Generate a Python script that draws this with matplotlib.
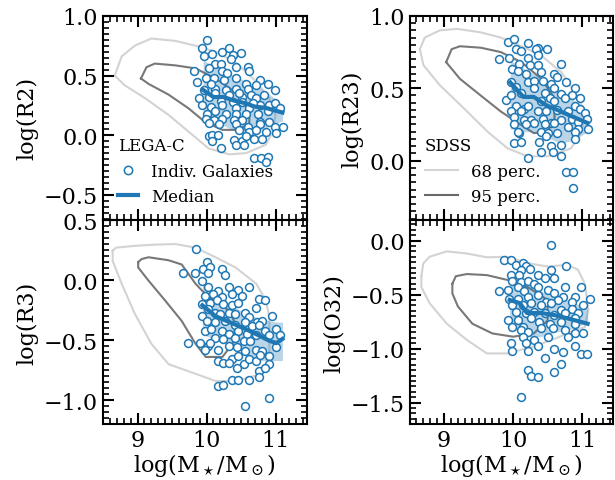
import numpy as np
import matplotlib.pyplot as plt
from matplotlib.ticker import AutoMinorLocator
from matplotlib.lines import Line2D

plt.rcParams['font.family'] = ['DejaVu Serif']
plt.rcParams['mathtext.fontset'] = 'dejavuserif'

BLUE = '#1f77b4'

# ---------------- R2 (top left) ----------------
r2_x = [10.01, 9.93, 9.96, 10.08, 10.23, 10.33, 10.38, 10.50, 10.13, 10.21, 10.35, 9.82, 10.03, 10.23,
        10.42, 10.60, 10.62, 10.77, 10.89, 10.99, 9.86, 9.99, 10.11, 10.25, 10.42, 10.57, 10.72, 9.96,
        10.13, 10.28, 10.42, 10.60, 10.13, 10.33, 10.52, 10.64, 10.84, 9.89, 10.03, 10.21, 10.38, 10.52,
        10.72, 9.94, 10.06, 10.23, 10.42, 10.62, 10.77, 10.91, 10.99, 11.06, 10.01, 10.13, 10.28, 10.42,
        10.57, 10.74, 10.89, 9.99, 10.11, 10.23, 10.40, 10.52, 10.77, 10.91, 10.03, 10.18, 10.42, 10.60,
        10.77, 10.99, 11.11, 10.47, 10.62, 10.72, 10.86, 11.01, 10.03, 10.08, 10.16, 10.08, 10.21, 10.40,
        10.52, 10.57, 10.69, 10.81, 10.42, 10.55, 10.69, 10.79, 10.89, 10.86, 10.06, 10.30, 10.47, 10.67]
r2_y = [0.80, 0.73, 0.66, 0.68, 0.70, 0.73, 0.67, 0.69, 0.60, 0.60, 0.64, 0.54, 0.56, 0.54,
        0.57, 0.57, 0.54, 0.46, 0.43, 0.38, 0.45, 0.48, 0.48, 0.46, 0.48, 0.43, 0.42, 0.38,
        0.39, 0.38, 0.39, 0.39, 0.35, 0.34, 0.32, 0.34, 0.34, 0.31, 0.32, 0.29, 0.28, 0.28,
        0.31, 0.25, 0.24, 0.25, 0.23, 0.23, 0.25, 0.25, 0.27, 0.23, 0.18, 0.20, 0.18, 0.18,
        0.18, 0.18, 0.20, 0.14, 0.13, 0.14, 0.13, 0.13, 0.11, 0.11, 0.10, 0.09, 0.09, 0.07,
        0.09, 0.07, 0.07, 0.04, 0.03, 0.04, 0.03, 0.02, -0.01, 0.00, 0.00, -0.05, -0.11, -0.04,
        -0.05, -0.01, -0.03, -0.03, -0.08, -0.08, -0.19, -0.19, -0.18, -0.22, 0.43, 0.52, 0.35, 0.27]
r2_med_x = [9.95, 10.1, 10.25, 10.4, 10.55, 10.7, 10.85, 11.1]
r2_med_y = [0.38, 0.32, 0.32, 0.29, 0.27, 0.24, 0.23, 0.19]
r2_lo = [0.12, 0.10, 0.08, 0.04, 0.00, 0.02, 0.06, 0.12]
r2_hi = [0.63, 0.58, 0.54, 0.50, 0.46, 0.42, 0.37, 0.26]
r2_c68_x = [8.67, 8.77, 8.96, 9.20, 9.55, 9.84, 10.13, 10.42, 10.72, 10.91, 11.00, 10.96, 10.86, 10.57,
            10.33, 10.03, 9.74, 9.45, 9.11, 8.81, 8.67]
r2_c68_y = [0.50, 0.66, 0.75, 0.81, 0.79, 0.75, 0.70, 0.61, 0.45, 0.31, 0.17, 0.03, -0.08, -0.15,
            -0.16, -0.11, 0.03, 0.17, 0.31, 0.42, 0.50]
r2_c95_x = [9.05, 9.13, 9.25, 9.55, 9.84, 10.13, 10.42, 10.62, 10.62, 10.42, 10.23, 9.98, 9.74, 9.45,
            9.16, 9.05]
r2_c95_y = [0.475, 0.57, 0.60, 0.585, 0.56, 0.475, 0.36, 0.20, 0.09, 0.045, 0.045, 0.11, 0.225, 0.34,
            0.43, 0.475]

# ---------------- R23 (top right) ----------------
r23_x = [9.92, 10.01, 10.04, 10.11, 10.21, 10.36, 10.33, 10.49, 9.80, 9.94, 10.21, 10.36, 10.09, 10.24,
         10.36, 10.70, 9.99, 10.07, 10.19, 10.41, 10.60, 10.63, 10.77, 10.89, 10.97, 9.90, 9.97, 10.04,
         10.21, 10.31, 10.43, 10.55, 10.60, 10.11, 10.31, 10.46, 10.70, 10.85, 9.97, 10.04, 10.16, 10.21,
         10.41, 10.53, 10.60, 10.75, 10.89, 10.97, 11.04, 11.07, 9.97, 10.11, 10.36, 10.48, 10.63, 10.80,
         10.02, 10.16, 10.26, 10.43, 10.55, 10.70, 10.85, 10.94, 10.02, 10.09, 10.31, 10.46, 10.60, 10.80,
         10.94, 11.09, 10.07, 10.19, 10.41, 10.50, 10.63, 10.89, 10.02, 10.11, 10.38, 10.48, 10.55, 10.70,
         10.89, 10.41, 10.58, 10.70, 10.21, 10.77, 10.87, 10.87]
r23_y = [0.82, 0.84, 0.77, 0.76, 0.81, 0.78, 0.77, 0.77, 0.70, 0.71, 0.71, 0.73, 0.67, 0.66,
         0.66, 0.67, 0.63, 0.62, 0.60, 0.61, 0.60, 0.58, 0.54, 0.50, 0.43, 0.42, 0.54, 0.51,
         0.54, 0.55, 0.55, 0.53, 0.50, 0.47, 0.50, 0.47, 0.46, 0.45, 0.45, 0.38, 0.36, 0.38,
         0.41, 0.43, 0.41, 0.43, 0.38, 0.36, 0.33, 0.29, 0.34, 0.34, 0.34, 0.34, 0.35, 0.34,
         0.30, 0.28, 0.28, 0.29, 0.26, 0.28, 0.29, 0.27, 0.25, 0.19, 0.26, 0.25, 0.26, 0.23,
         0.22, 0.22, 0.20, 0.25, 0.20, 0.19, 0.19, 0.20, 0.12, 0.13, 0.13, 0.17, 0.10, 0.11,
         0.15, 0.06, 0.06, 0.03, 0.02, -0.08, -0.08, -0.19]
r23_med_x = [9.96, 10.15, 10.3, 10.49, 10.69, 10.88, 11.08]
r23_med_y = [0.54, 0.44, 0.44, 0.38, 0.34, 0.30, 0.26]
r23_lo = [0.22, 0.20, 0.20, 0.16, 0.12, 0.14, 0.20]
r23_hi = [0.69, 0.64, 0.60, 0.54, 0.48, 0.42, 0.34]
r23_c68_x = [8.65, 8.72, 8.94, 9.19, 9.53, 9.82, 10.12, 10.41, 10.70, 10.90, 11.04, 10.99, 10.84, 10.50,
             10.21, 9.92, 9.63, 9.29, 8.94, 8.70, 8.65]
r23_c68_y = [0.77, 0.85, 0.90, 0.91, 0.886, 0.85, 0.79, 0.725, 0.61, 0.47, 0.34, 0.20, 0.085, 0.03,
             0.03, 0.085, 0.20, 0.36, 0.52, 0.66, 0.77]
r23_c95_x = [9.03, 9.11, 9.23, 9.53, 9.82, 10.12, 10.41, 10.60, 10.60, 10.50, 10.30, 10.12, 9.82, 9.53,
             9.23, 9.03]
r23_c95_y = [0.68, 0.77, 0.79, 0.78, 0.75, 0.68, 0.565, 0.43, 0.29, 0.20, 0.19, 0.245, 0.34, 0.45,
             0.565, 0.68]

# ---------------- R3 (bottom left) ----------------
r3_x = [9.85, 10.00, 9.95, 9.83, 10.05, 10.02, 10.22, 10.27, 9.93, 9.66, 10.02, 10.17, 10.32, 10.46,
        10.61, 10.76, 10.85, 9.98, 10.10, 10.22, 10.37, 10.51, 9.93, 10.05, 10.15, 10.24, 10.37, 10.46,
        10.71, 9.93, 10.02, 10.12, 10.19, 10.32, 10.41, 10.56, 10.61, 10.73, 10.80, 10.95, 10.00, 10.12,
        10.27, 10.41, 10.56, 10.66, 10.76, 10.85, 11.00, 11.07, 9.98, 10.07, 10.22, 10.32, 10.46, 10.58,
        10.71, 10.90, 10.12, 10.24, 10.41, 10.54, 10.63, 11.00, 9.90, 10.02, 10.17, 10.32, 10.44, 10.56,
        10.71, 10.80, 10.17, 10.24, 10.37, 10.46, 10.54, 10.61, 10.71, 10.78, 10.90, 10.90, 10.32, 10.44,
        10.76, 10.85, 10.76, 10.61, 10.37, 10.46, 10.17, 10.24, 10.56, 10.90, 9.73, 9.98, 10.05]
r3_y = [0.26, 0.15, 0.09, 0.06, 0.11, 0.06, 0.09, 0.04, -0.01, 0.06, -0.06, -0.09, -0.06, -0.08,
        -0.06, -0.16, -0.17, -0.13, -0.12, -0.14, -0.12, -0.13, -0.20, -0.19, -0.17, -0.20, -0.21, -0.19,
        -0.23, -0.30, -0.24, -0.27, -0.28, -0.27, -0.28, -0.27, -0.31, -0.35, -0.34, -0.30, -0.34, -0.35,
        -0.34, -0.37, -0.35, -0.38, -0.37, -0.42, -0.41, -0.46, -0.42, -0.41, -0.42, -0.45, -0.42, -0.45,
        -0.46, -0.46, -0.48, -0.49, -0.48, -0.51, -0.51, -0.56, -0.52, -0.55, -0.58, -0.55, -0.56, -0.59,
        -0.58, -0.59, -0.67, -0.69, -0.66, -0.63, -0.70, -0.66, -0.67, -0.62, -0.63, -0.70, -0.69, -0.73,
        -0.76, -0.73, -0.81, -0.83, -0.83, -0.83, -0.88, -0.87, -1.05, -0.98, -0.52, -0.58, -0.52]
r3_med_x = [9.94, 10.13, 10.33, 10.52, 10.72, 10.91, 11.01, 11.1]
r3_med_y = [-0.21, -0.30, -0.35, -0.395, -0.45, -0.505, -0.525, -0.49]
r3_lo = [-0.45, -0.50, -0.53, -0.60, -0.67, -0.67, -0.67, -0.67]
r3_hi = [-0.04, -0.13, -0.20, -0.26, -0.31, -0.34, -0.35, -0.35]
r3_c68_x = [8.64, 8.69, 8.96, 9.25, 9.55, 9.84, 10.13, 10.42, 10.72, 10.86, 10.91, 10.91, 10.81, 10.42,
            10.13, 9.84, 9.45, 9.20, 8.96, 8.77, 8.64, 8.64]
r3_c68_y = [0.245, 0.27, 0.285, 0.295, 0.30, 0.27, 0.19, 0.105, -0.03, -0.17, -0.31, -0.67, -0.78, -0.84,
            -0.84, -0.78, -0.70, -0.53, -0.28, -0.03, 0.16, 0.245]
r3_c95_x = [9.01, 9.06, 9.16, 9.45, 9.64, 9.84, 10.03, 10.33, 10.42, 10.38, 10.23, 9.99, 9.84, 9.64,
            9.40, 9.16, 9.01, 9.01]
r3_c95_y = [0.15, 0.175, 0.19, 0.165, 0.13, -0.03, -0.145, -0.255, -0.37, -0.53, -0.64, -0.64, -0.53,
            -0.34, -0.17, -0.005, 0.105, 0.15]

# ---------------- O32 (bottom right) ----------------
o32_x = [10.55, 9.87, 9.97, 10.04, 10.14, 10.19, 10.24, 10.11, 9.97, 10.09, 10.36, 10.55, 10.77, 9.80,
         9.99, 10.11, 10.21, 10.31, 10.46, 10.60, 10.75, 9.92, 10.07, 10.16, 10.36, 10.50, 10.60, 10.72,
         10.89, 10.99, 11.11, 11.02, 9.94, 10.07, 10.21, 10.36, 10.48, 10.65, 10.85, 9.99, 10.14, 10.26,
         10.41, 10.55, 10.70, 10.85, 10.94, 10.04, 10.19, 10.31, 10.46, 10.60, 10.75, 10.89, 10.07, 9.92,
         10.14, 10.26, 10.38, 10.53, 10.70, 10.89, 9.99, 10.11, 10.21, 10.41, 10.58, 10.75, 10.89, 11.02,
         10.14, 10.31, 10.50, 10.80, 9.97, 10.19, 10.36, 9.99, 10.21, 10.60, 10.72, 10.89, 10.99, 11.07,
         10.46, 10.70, 10.21, 10.26, 10.36, 10.60, 10.11]
o32_y = [-0.04, -0.18, -0.18, -0.23, -0.21, -0.24, -0.26, -0.27, -0.32, -0.32, -0.32, -0.27, -0.24, -0.47,
         -0.37, -0.38, -0.37, -0.40, -0.35, -0.35, -0.43, -0.46, -0.43, -0.47, -0.43, -0.46, -0.49, -0.52,
         -0.52, -0.43, -0.54, -0.60, -0.54, -0.54, -0.52, -0.50, -0.57, -0.55, -0.57, -0.60, -0.60, -0.58,
         -0.60, -0.58, -0.64, -0.63, -0.67, -0.66, -0.67, -0.66, -0.67, -0.69, -0.67, -0.72, -0.74, -0.74,
         -0.80, -0.72, -0.75, -0.77, -0.75, -0.77, -0.80, -0.83, -0.85, -0.81, -0.81, -0.83, -0.86, -0.86,
         -0.89, -0.92, -0.89, -0.89, -0.95, -0.95, -0.98, -1.02, -1.02, -1.00, -1.03, -0.98, -1.05, -1.05,
         -1.09, -1.14, -1.20, -1.25, -1.26, -1.22, -1.45]
o32_med_x = [9.95, 10.1, 10.2, 10.4, 10.6, 10.79, 11.08]
o32_med_y = [-0.55, -0.58, -0.67, -0.67, -0.69, -0.72, -0.77]
o32_lo = [-0.80, -0.85, -0.89, -0.89, -0.85, -0.83, -0.76]
o32_hi = [-0.32, -0.33, -0.36, -0.47, -0.52, -0.55, -0.63]
o32_c68_x = [8.67, 8.70, 8.79, 9.04, 9.33, 9.62, 9.92, 10.21, 10.50, 10.79, 10.94, 11.04, 11.09, 11.04,
             10.90, 10.60, 10.30, 9.92, 9.62, 9.33, 9.04, 8.79, 8.67, 8.67]
o32_c68_y = [-0.33, -0.21, -0.15, -0.10, -0.12, -0.155, -0.15, -0.21, -0.24, -0.225, -0.27, -0.40, -0.64,
             -0.80, -0.83, -0.91, -0.98, -1.045, -1.045, -0.92, -0.77, -0.58, -0.43, -0.33]
o32_c95_x = [9.12, 9.17, 9.33, 9.62, 9.92, 10.21, 10.50, 10.50, 10.30, 10.00, 9.70, 9.41, 9.20, 9.12, 9.12]
o32_c95_y = [-0.40, -0.33, -0.31, -0.32, -0.365, -0.43, -0.55, -0.74, -0.86, -0.89, -0.86, -0.77, -0.61,
             -0.49, -0.40]

panels = [
    ('log(R2)', r2_x, r2_y, r2_med_x, r2_med_y, r2_lo, r2_hi, r2_c68_x, r2_c68_y, r2_c95_x, r2_c95_y, (-0.71, 1.0)),
    ('log(R23)', r23_x, r23_y, r23_med_x, r23_med_y, r23_lo, r23_hi, r23_c68_x, r23_c68_y, r23_c95_x, r23_c95_y, (-0.41, 1.0)),
    ('log(R3)', r3_x, r3_y, r3_med_x, r3_med_y, r3_lo, r3_hi, r3_c68_x, r3_c68_y, r3_c95_x, r3_c95_y, (-1.2, 0.5)),
    ('log(O32)', o32_x, o32_y, o32_med_x, o32_med_y, o32_lo, o32_hi, o32_c68_x, o32_c68_y, o32_c95_x, o32_c95_y, (-1.7, 0.19)),
]

fig, axes = plt.subplots(2, 2, figsize=(6.15, 4.81), dpi=100, sharex=True)
fig.subplots_adjust(left=0.1675, right=0.997, top=0.965, bottom=0.116, hspace=0, wspace=0.506)

for ax, (lab, x, y, mx, my, lo, hi, c68x, c68y, c95x, c95y, ylim) in zip(axes.flat, panels):
    ax.plot(c68x, c68y, color='lightgray', lw=1.5, zorder=1)
    ax.plot(c95x, c95y, color='dimgray', lw=1.5, alpha=0.9, zorder=1)
    ax.fill_between(mx, lo, hi, color=BLUE, alpha=0.3, lw=0, zorder=2)
    ax.scatter(x, y, s=32, facecolor='white', edgecolor=BLUE, lw=1.1, zorder=3)
    ax.plot(mx, my, color=BLUE, lw=3, zorder=4)
    ax.set_ylim(*ylim)
    ax.set_xlim(8.5, 11.45)
    ax.set_ylabel(lab, fontsize=16)
    ax.yaxis.set_major_locator(plt.MultipleLocator(0.5))
    ax.xaxis.set_major_locator(plt.MultipleLocator(1))
    ax.xaxis.set_minor_locator(AutoMinorLocator(10))
    ax.yaxis.set_minor_locator(AutoMinorLocator(10))
    ax.tick_params(which='both', direction='in', top=True, right=True, labelsize=16)
    ax.tick_params(which='major', length=8, width=1.5)
    ax.tick_params(which='minor', length=4, width=1.2)
    for sp in ax.spines.values():
        sp.set_linewidth(1.5)

for ax in axes[1]:
    ax.set_xlabel(r'log(M$_\star$/M$_\odot$)', fontsize=16, labelpad=0)

h1 = [Line2D([], [], ls='none', marker='o', mfc='white', mec=BLUE, ms=6, mew=1.1),
      Line2D([], [], color=BLUE, lw=3)]
axes[0, 0].legend(h1, ['Indiv. Galaxies', 'Median'], title='LEGA-C', loc='lower left',
                  frameon=False, fontsize=12, title_fontsize=12, alignment='left',
                  handlelength=1.2)
h2 = [Line2D([], [], color='lightgray', lw=1.5), Line2D([], [], color='dimgray', lw=1.5)]
axes[0, 1].legend(h2, ['68 perc.', '95 perc.'], title='SDSS', loc='lower left',
                  frameon=False, fontsize=12, title_fontsize=12, alignment='left')

fig.savefig('out.png', dpi=100)
